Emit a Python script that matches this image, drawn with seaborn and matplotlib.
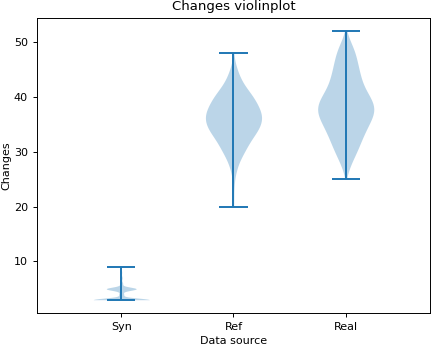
import numpy as np
import pandas as pd
import seaborn as sns
import matplotlib
matplotlib.use("Agg")
import matplotlib.pyplot as plt

# Data: number of samples for each integer "Changes" value
sources = ["Syn", "Ref", "Real"]

syn_values = [3, 4, 5, 6, 7, 8, 9]
syn_counts = [600, 50, 320, 30, 20, 10, 4]

ref_values = list(range(20, 49))
ref_counts = [1, 1, 1, 1, 2, 4, 7, 12, 18, 27, 38, 48, 58, 72, 86, 95,
              100, 98, 90, 80, 70, 55, 40, 28, 20, 13, 7, 3, 1]

real_values = list(range(25, 53))
real_counts = [1, 5, 12, 19, 28, 38, 45, 52, 60, 68, 78, 88, 97, 100,
               94, 84, 70, 60, 54, 49, 45, 41, 37, 33, 27, 17, 8, 2]

# Build long-form table
frames = []
for name, vals, cnts in [("Syn", syn_values, syn_counts),
                         ("Ref", ref_values, ref_counts),
                         ("Real", real_values, real_counts)]:
    frames.append(pd.DataFrame({"source": name,
                                "changes": np.repeat(vals, cnts).astype(float)}))
df = pd.concat(frames, ignore_index=True)

fig = plt.figure(figsize=(4.36, 3.46), dpi=100)
ax = fig.add_axes([0.085, 0.095, 0.901, 0.853])

sns.violinplot(data=df, x="source", y="changes", order=sources, ax=ax,
               cut=0, density_norm="width", width=0.5, inner=None,
               bw_method="scott", color="C0", saturation=1, linewidth=0,
               alpha=0.3)

# Extrema lines like matplotlib's violinplot
stats = df.groupby("source")["changes"].agg(["min", "max"]).loc[sources]
pos = np.arange(len(sources))
lw = 1.4
ax.vlines(pos, stats["min"], stats["max"], color="C0", lw=lw)
ax.hlines(stats["min"], pos - 0.125, pos + 0.125, color="C0", lw=lw)
ax.hlines(stats["max"], pos - 0.125, pos + 0.125, color="C0", lw=lw)

ax.set_xlim(-0.75, len(sources) - 0.25)
ax.tick_params(labelsize=8, length=3, width=0.7)
for s in ax.spines.values():
    s.set_linewidth(0.7)
ax.set_title("Changes violinplot", fontsize=9.5)
ax.set_xlabel("Data source", fontsize=8, labelpad=3)
ax.set_ylabel("Changes", fontsize=8, labelpad=2)

fig.savefig("out.png", dpi=100)
